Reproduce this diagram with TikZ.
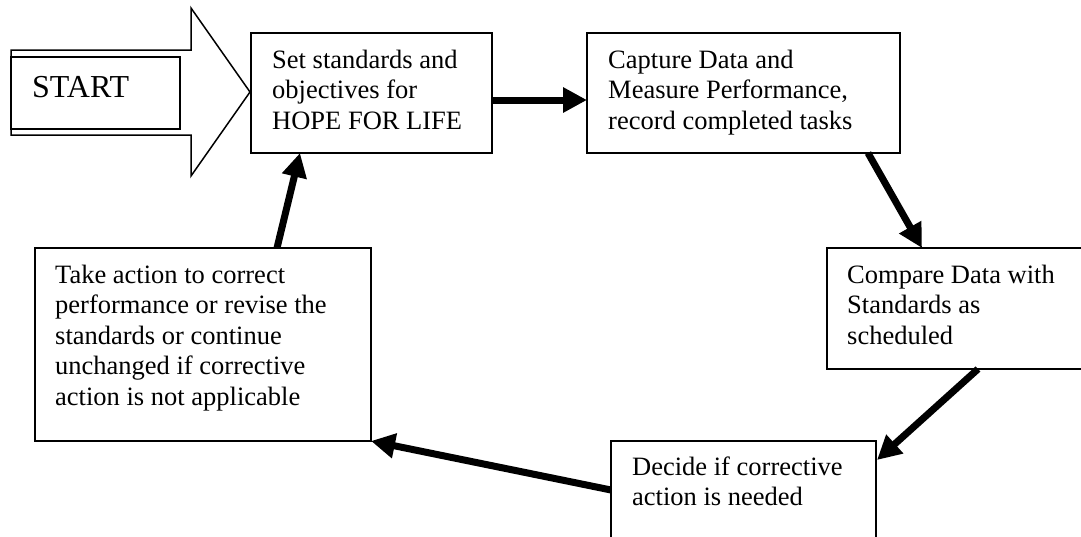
\documentclass[tikz,border=0pt]{standalone}
\usepackage{fontspec}
\setmainfont{Liberation Serif}
\usetikzlibrary{arrows.meta,calc}
\begin{document}
\begin{tikzpicture}[x=1pt,y=-1pt,
  frame/.style={draw, line width=1.5pt, rectangle, inner sep=0pt, outer sep=0pt, anchor=north west},
  boxtext/.style={anchor=base west, inner sep=0pt, font=\fontsize{26.5}{30.5}\selectfont},
  flow/.style={line width=7pt, -{Triangle[length=24pt,width=24pt]}}]
\useasboundingbox (0,0) rectangle (1081,536);
\clip (0,0) rectangle (1081,536);

% block arrow carrying the start label
\draw[line width=1.5pt, line join=miter]
  (11,50) -- (191,50) -- (191,8) -- (250,92) -- (191,176) -- (191,135) -- (11,135) -- cycle;
\node[frame, minimum width=169pt, minimum height=72pt] (startbox) at (11,57) {};
\node[boxtext, font=\fontsize{32}{36}\selectfont] (starttext) at (32,97) {START};

% process boxes
\node[frame, minimum width=241pt, minimum height=120pt] (b1) at (251,33) {};
\node[frame, minimum width=313pt, minimum height=120pt] (b2) at (587,33) {};
\node[frame, minimum width=270pt, minimum height=121pt] (b3) at (827,248) {};
\node[frame, minimum width=265pt, minimum height=110pt] (b4) at (611,441) {};
\node[frame, minimum width=336pt, minimum height=193pt] (b5) at (35,248) {};

% box texts
\node[boxtext] (t1) at (272,68) {\parbox[t]{300pt}{\raggedright Set standards and\\objectives for\\HOPE FOR LIFE}};
\node[boxtext] (t2) at (608,68) {\parbox[t]{300pt}{\raggedright Capture Data and\\Measure Performance,\\record completed tasks}};
\node[boxtext] (t3) at (847,283) {\parbox[t]{300pt}{\raggedright Compare Data with\\Standards as\\scheduled}};
\node[boxtext] (t4) at (632,475) {\parbox[t]{300pt}{\raggedright Decide if corrective\\action is needed}};
\node[boxtext] (t5) at (55,283) {\parbox[t]{320pt}{\raggedright Take action to correct\\performance or revise the\\standards or continue\\unchanged if corrective\\action is not applicable}};

% cycle connectors
\draw[flow] ($(b1.north east)+(0,67)$) -- ($(b2.north west)+(0,67)$);
\draw[flow] ($(b2.south west)+(281,0)$) -- ($(b3.north west)+(95,0)$);
\draw[flow] ($(b3.south west)+(151,0)$) -- ($(b4.north east)+(1,19)$);
\draw[flow] ($(b4.north west)+(0,49)$) -- (b5.south east);
\draw[flow] ($(b5.north west)+(242,0)$) -- ($(b1.south west)+(49,0)$);
\end{tikzpicture}
\end{document}
